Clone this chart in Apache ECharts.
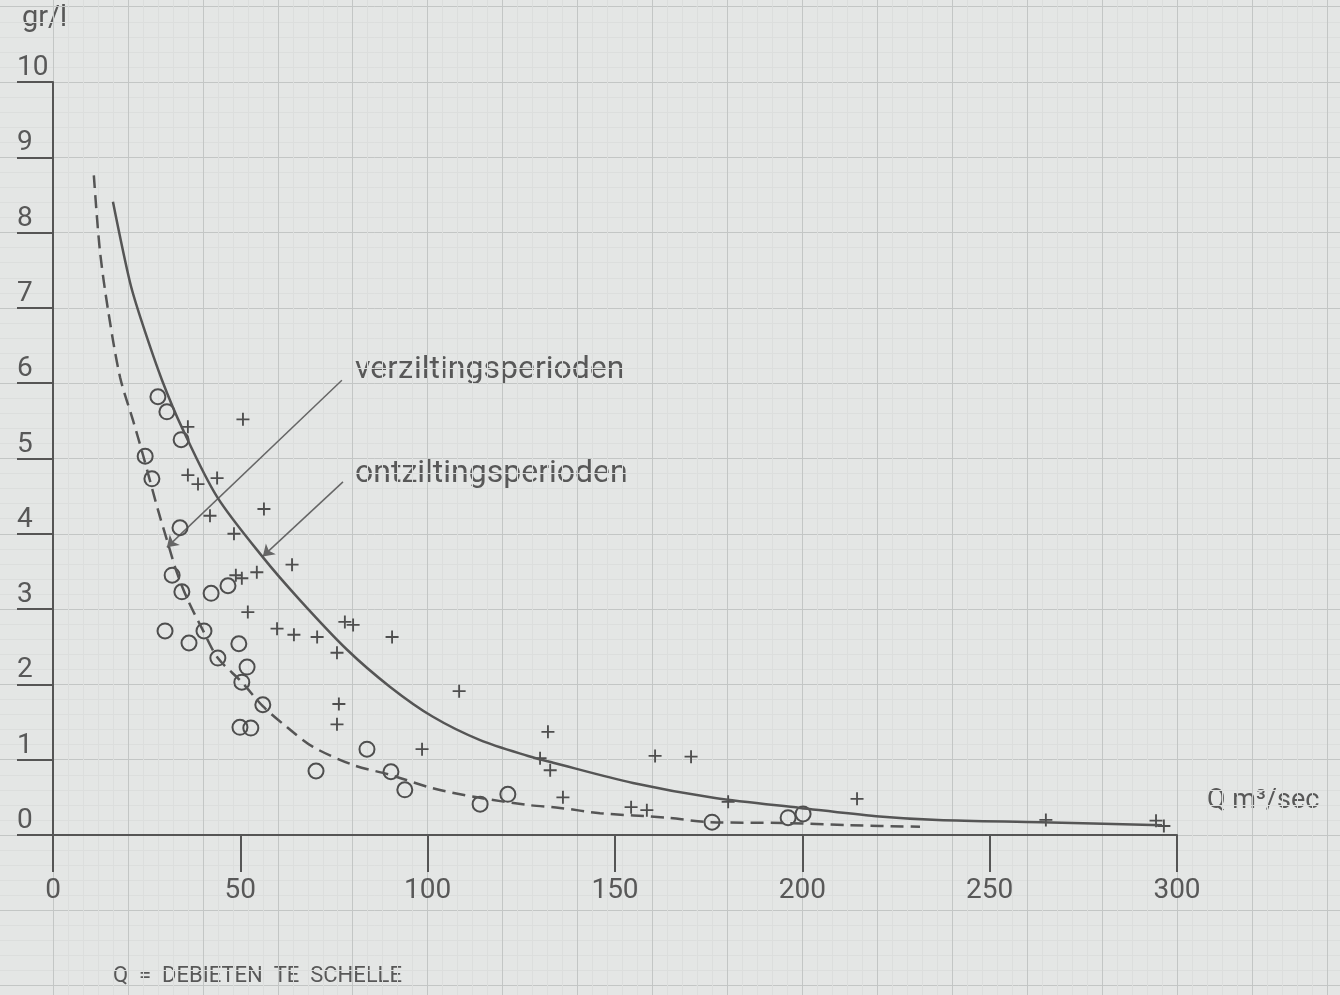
<!DOCTYPE html>
<html>
<head>
<meta charset="utf-8">
<script src="https://cdn.jsdelivr.net/npm/echarts@6/dist/echarts.min.js"></script>
<style>
html,body{margin:0;padding:0;background:#e4e6e5;}
#chart{width:1340px;height:995px;}
</style>
</head>
<body>
<div id="chart"></div>
<script>
// ---- data (Q in m3/sec, chloride in gr/l) ----
const xTickValues = [0, 50, 100, 150, 200, 250, 300];
const yTickValues = [0, 1, 2, 3, 4, 5, 6, 7, 8, 9, 10];

// circles
const circlePoints = [
  [28.0,5.82],[30.4,5.62],[34.2,5.25],[24.6,5.03],[26.4,4.73],[33.9,4.08],
  [31.8,3.45],[34.4,3.23],[42.2,3.21],[46.7,3.31],[29.9,2.71],[36.3,2.55],
  [40.3,2.71],[44.0,2.35],[49.6,2.54],[51.8,2.23],[50.4,2.03],[56.0,1.73],
  [49.9,1.43],[52.8,1.42],[70.2,0.85],[83.8,1.14],[90.2,0.84],[93.9,0.60],
  [114.0,0.41],[121.4,0.54],[175.9,0.17],[196.2,0.23],[200.2,0.28]
];
// crosses
const crossPoints = [
  [36.0,5.42],[50.7,5.52],[36.0,4.78],[38.7,4.66],[43.8,4.74],[41.9,4.24],
  [48.3,4.00],[56.3,4.33],[48.8,3.45],[50.4,3.41],[54.4,3.49],[63.8,3.59],
  [52.0,2.96],[59.8,2.74],[64.3,2.66],[70.5,2.63],[77.9,2.83],[80.1,2.79],
  [75.8,2.42],[90.5,2.63],[76.3,1.74],[75.8,1.47],[98.5,1.14],[108.4,1.91],
  [132.1,1.37],[130.0,1.02],[132.7,0.86],[136.1,0.50],[154.3,0.37],[158.5,0.33],
  [160.7,1.05],[170.3,1.04],[180.2,0.44],[214.6,0.48],[265.0,0.20],[294.4,0.19],
  [296.5,0.12]
];
// solid curve (ontziltingsperioden)
const solidCurve = [
  [16.0,8.41],[20.6,7.33],[23.8,6.80],[29.1,6.04],[34.7,5.38],[43.8,4.49],
  [56.0,3.69],[65.9,3.12],[78.5,2.46],[89.9,1.97],[101.4,1.57],[114.0,1.26],
  [126.8,1.05],[133.5,0.96],[154.8,0.69],[176.7,0.49],[199.4,0.36],[219.7,0.25],
  [236.2,0.20],[263.7,0.17],[296.0,0.13]
];
// dashed curve (verziltingsperioden)
const dashedCurve = [
  [10.9,8.76],[12.5,7.77],[14.7,6.97],[17.9,6.08],[21.4,5.50],[24.0,5.05],
  [28.0,4.32],[30.4,3.92],[33.1,3.48],[36.0,3.12],[40.0,2.72],[44.0,2.35],
  [50.4,2.03],[56.0,1.71],[62.5,1.43],[69.4,1.17],[80.1,0.93],[89.9,0.80],
  [101.4,0.62],[113.2,0.50],[126.5,0.40],[135.3,0.36],[146.0,0.29],[163.9,0.23],
  [175.4,0.17],[194.8,0.16],[212.7,0.13],[231.4,0.11]
];
// annotation arrows
const arrowVerzilting = [[77.1,6.04],[30.4,3.82]];
const arrowOntzilting = [[77.4,4.69],[56.0,3.70]];

// ---- chart ----
const INK = '#555555';
const TXT = '#585858';
const MAJOR = '#c3c6c5';
const MINOR = '#dcdedd';
const FONT = 'Roboto, "DejaVu Sans", sans-serif';
const W = 1340, H = 995;
const chart = echarts.init(document.getElementById('chart'), null, {renderer:'canvas'});

const plotLeft = 53, plotTop = 82, plotW = 1124, plotH = 753;
const cellX = plotW / 300 * 20;   // graph paper cell width (20 m3/sec)
const cellY = plotH / 10;         // graph paper cell height (1 gr/l)
const paperTop = plotTop - cellY;

function hiddenAxis(extra) {
  return Object.assign({
    type:'value', axisLine:{show:false}, axisTick:{show:false}, axisLabel:{show:false},
    splitLine:{show:true, lineStyle:{color:MAJOR, width:1}},
    minorTick:{show:false, splitNumber:5},
    minorSplitLine:{show:true, lineStyle:{color:MINOR, width:1}}
  }, extra);
}

const option = {
  backgroundColor: '#e4e6e5',
  animation: false,
  grid: [
    // graph paper: main area
    { left: plotLeft, top: paperTop, width: W - plotLeft, height: H - paperTop },
    // graph paper: left strip (horizontal rulings only)
    { left: 0, top: paperTop, width: plotLeft, height: H - paperTop },
    // graph paper: top strip
    { left: plotLeft, top: 0, width: W - plotLeft, height: paperTop },
    // data plot
    { left: plotLeft, top: plotTop, width: plotW, height: plotH }
  ],
  xAxis: [
    hiddenAxis({ gridIndex:0, min:0, max:(W - plotLeft)/cellX, interval:1 }),
    hiddenAxis({ gridIndex:1, min:0, max:1, interval:1,
      splitLine:{show:false}, minorSplitLine:{show:false} }),
    hiddenAxis({ gridIndex:2, min:0, max:(W - plotLeft)/cellX, interval:1 }),
    { gridIndex: 3, type: 'value', min: 0, max: 300, interval: 50,
      axisLine:{show:true, onZero:false, lineStyle:{color:INK, width:2}},
      axisTick:{show:true, length:37, inside:false, lineStyle:{color:INK, width:2}},
      axisLabel:{show:true, margin:42, color:TXT, fontSize:28, fontFamily:FONT},
      splitLine:{show:false} }
  ],
  yAxis: [
    hiddenAxis({ gridIndex:0, min:0, max:(H - paperTop)/cellY, interval:1, inverse:true }),
    hiddenAxis({ gridIndex:1, min:0, max:(H - paperTop)/cellY, interval:1, inverse:true }),
    hiddenAxis({ gridIndex:2, min:0, max:1, interval:1,
      splitLine:{show:false}, minorSplitLine:{show:false} }),
    { gridIndex: 3, type: 'value', min: 0, max: 10, interval: 1,
      axisLine:{show:true, onZero:false, lineStyle:{color:INK, width:2}},
      axisTick:{show:true, length:36, inside:false, lineStyle:{color:INK, width:2}},
      axisLabel:{show:true, margin:36, align:'left', verticalAlign:'bottom',
        color:TXT, fontSize:28, fontFamily:FONT},
      splitLine:{show:false} }
  ],
  graphic: [
    { type:'text', left:22, top:4, style:{text:'gr/l', fill:TXT, font:'29px ' + FONT} },
    { type:'text', left:355, top:354, style:{text:'verziltingsperioden', fill:TXT, font:'32px ' + FONT} },
    { type:'text', left:355, top:458, style:{text:'ontziltingsperioden', fill:TXT, font:'32px ' + FONT} },
    { type:'text', left:1207, top:788, style:{text:'Q m\u00B3/sec', fill:TXT, font:'27px ' + FONT} },
    { type:'text', left:113, top:965, style:{text:'Q  =  DEBIETEN  TE  SCHELLE', fill:TXT, font:'22px ' + FONT} }
  ],
  series: [
    { name:'ontziltingsperioden', type:'line', xAxisIndex:3, yAxisIndex:3,
      data: solidCurve, smooth: 0.3, showSymbol:false, symbol:'none', silent:true,
      lineStyle:{color:INK, width:2.5} },
    { name:'verziltingsperioden', type:'line', xAxisIndex:3, yAxisIndex:3,
      data: dashedCurve, smooth: 0.3, showSymbol:false, symbol:'none', silent:true,
      lineStyle:{color:INK, width:2.5, type:[13,7]} },
    { name:'circles', type:'scatter', xAxisIndex:3, yAxisIndex:3, data: circlePoints,
      symbol:'circle', symbolSize:15, silent:true,
      itemStyle:{color:'rgba(0,0,0,0)', borderColor:'#4e4e4e', borderWidth:2, opacity:1} },
    { name:'crosses', type:'scatter', xAxisIndex:3, yAxisIndex:3, data: crossPoints,
      symbol:'path://M6,0H8V6H14V8H8V14H6V8H0V6H6Z', symbolSize:13, silent:true,
      itemStyle:{color:'#4e4e4e', opacity:1} },
    { name:'arrows', type:'lines', coordinateSystem:'cartesian2d', xAxisIndex:3, yAxisIndex:3,
      silent:true, symbol:['none','arrow'], symbolSize:11,
      lineStyle:{color:'#666', width:1.5, type:'solid', opacity:1, curveness:0},
      data:[ { coords: arrowVerzilting }, { coords: arrowOntzilting } ] }
  ]
};
chart.setOption(option);
</script>
</body>
</html>
